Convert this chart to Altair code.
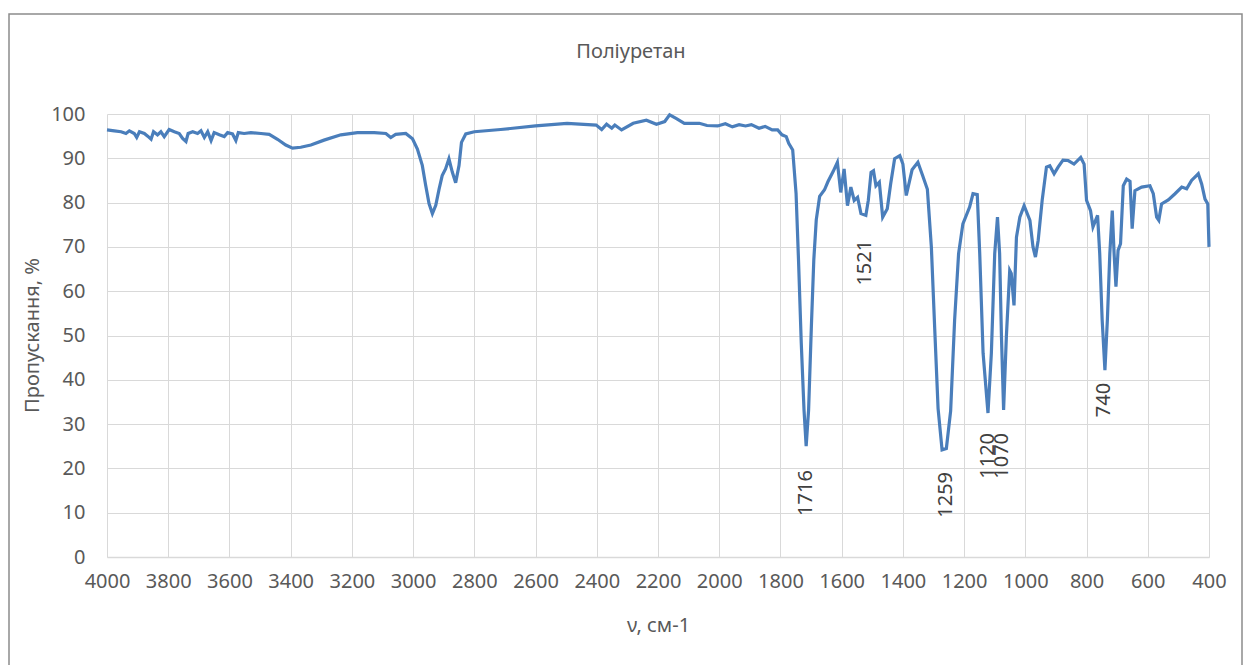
import altair as alt
import pandas as pd

# ---- spectrum (wavenumber, cm-1  /  transmittance, %) ----
wavenumber = [
    4000, 3976, 3954, 3938, 3927, 3911, 3903, 3894, 3878, 3867, 3856, 3848, 3835, 3824, 3813,
    3797, 3780, 3764, 3753, 3742, 3735, 3720, 3704, 3693, 3682, 3671, 3660, 3650, 3633, 3617,
    3606, 3590, 3579, 3571, 3552, 3530, 3497, 3470, 3443, 3416, 3394, 3367, 3334, 3291, 3236,
    3182, 3127, 3089, 3073, 3057, 3024, 3002, 2986, 2970, 2959, 2948, 2937, 2926, 2915, 2905,
    2894, 2883, 2872, 2861, 2850, 2842, 2828, 2800, 2714, 2600, 2497, 2402, 2384, 2368, 2351,
    2341, 2319, 2281, 2238, 2205, 2178, 2162, 2141, 2114, 2065, 2040, 2005, 1980, 1957, 1935,
    1914, 1895, 1870, 1850, 1827, 1809, 1795, 1781, 1773, 1760, 1749, 1741, 1732, 1723, 1716,
    1708, 1699, 1691, 1683, 1672, 1656, 1645, 1628, 1614, 1603, 1592, 1581, 1570, 1559, 1548,
    1537, 1521, 1513, 1504, 1496, 1488, 1477, 1466, 1451, 1440, 1427, 1410, 1400, 1389, 1370,
    1351, 1335, 1320, 1307, 1296, 1285, 1272, 1258, 1244, 1231, 1218, 1204, 1182, 1171, 1157,
    1149, 1138, 1122, 1111, 1100, 1091, 1084, 1078, 1071, 1062, 1051, 1046, 1037, 1029, 1018,
    1004, 985, 975, 967, 958, 945, 931, 920, 906, 893, 877, 860, 841, 819, 808,
    800, 787, 779, 764, 757, 749, 740, 732, 724, 716, 710, 704, 697, 689, 680,
    669, 658, 651, 642, 620, 593, 582, 571, 564, 555, 533, 511, 489, 473, 457,
    435, 424, 413, 404, 400,
]
transmittance = [
    96.4, 96.2, 96.0, 95.6, 96.2, 95.6, 94.7, 96.0, 95.6, 95.0, 94.3, 96.0, 95.3, 96.0, 94.9,
    96.5, 96.0, 95.6, 94.5, 93.8, 95.6, 96.0, 95.6, 96.2, 94.7, 96.0, 94.0, 95.8, 95.3, 94.9,
    95.8, 95.5, 94.0, 95.8, 95.6, 95.8, 95.6, 95.4, 94.3, 93.0, 92.3, 92.5, 93.0, 94.1, 95.3,
    95.8, 95.8, 95.6, 94.7, 95.4, 95.6, 94.4, 92.1, 88.4, 83.9, 79.8, 77.5, 79.4, 83.1, 86.1,
    87.6, 89.9, 86.9, 84.5, 88.4, 93.6, 95.5, 96.0, 96.5, 97.3, 97.9, 97.5, 96.5, 97.7, 96.8,
    97.5, 96.4, 97.9, 98.6, 97.7, 98.3, 99.8, 99.0, 97.9, 97.9, 97.4, 97.3, 97.8, 97.1, 97.6,
    97.3, 97.6, 96.8, 97.2, 96.4, 96.4, 95.3, 94.9, 93.4, 91.9, 82.1, 67.1, 48.3, 33.2, 25.0,
    33.2, 52.0, 67.1, 76.1, 81.4, 82.9, 84.7, 87.0, 89.1, 82.3, 87.6, 79.3, 83.5, 80.5, 81.2,
    77.5, 77.1, 80.5, 86.8, 87.2, 83.8, 84.6, 76.7, 78.6, 84.2, 89.9, 90.6, 88.7, 81.6, 87.4,
    89.1, 86.0, 83.0, 70.0, 51.5, 33.5, 24.2, 24.5, 33.0, 53.5, 68.5, 75.2, 79.0, 82.0, 81.8,
    68.5, 46.0, 32.5, 46.0, 68.5, 76.7, 68.5, 49.7, 33.2, 49.7, 64.7, 64.0, 56.8, 72.2, 76.7,
    79.3, 76.0, 70.0, 67.7, 71.5, 80.5, 88.0, 88.3, 86.5, 88.0, 89.6, 89.5, 88.7, 90.2, 88.7,
    80.5, 78.2, 74.5, 77.1, 68.5, 53.5, 42.2, 53.5, 68.5, 78.2, 68.5, 61.0, 69.2, 70.7, 83.8,
    85.3, 84.8, 74.1, 82.7, 83.5, 83.8, 82.0, 76.7, 76.0, 79.7, 80.6, 82.0, 83.5, 83.1, 85.0,
    86.5, 84.2, 80.8, 79.7, 70.0,
]

# ---- peak annotations ----
peak_labels = ["1716", "1521", "1259", "1120", "1070", "740"]
peak_x = [1716, 1524, 1259, 1122, 1075, 743]
peak_y = [19.6, 71.6, 19.2, 28.0, 28.0, 39.3]

chart_title = ["Поліуретан"]

x_ticks = list(range(4000, 399, -200))
y_ticks = list(range(0, 101, 10))

FONT = "Noto Sans"
TXT = "#595959"
GRID = "#D9D9D9"

spec = pd.DataFrame({"v": wavenumber, "t": transmittance})
labels = pd.DataFrame({"label": peak_labels, "v": peak_x, "t": peak_y})

x_enc = alt.X(
    "v:Q",
    scale=alt.Scale(domain=[400, 4000], reverse=True, nice=False, zero=False),
    axis=alt.Axis(
        values=x_ticks, format="d", grid=True, gridColor=GRID, ticks=False,
        domainColor=GRID, domainWidth=1.5, labelFontSize=20, labelColor=TXT, labelFont=FONT,
        labelPadding=14, labelOverlap=False, labelFlush=False,
        title="ν, см-1", titleFontSize=20, titleColor=TXT,
        titleFont=FONT, titleFontWeight="normal", titlePadding=24,
    ),
)
y_enc = alt.Y(
    "t:Q",
    scale=alt.Scale(domain=[0, 100], nice=False),
    axis=alt.Axis(
        values=y_ticks, grid=True, gridColor=GRID, ticks=False, domain=False,
        labelFontSize=20, labelColor=TXT, labelFont=FONT, labelPadding=22,
        labelOverlap=False, labelFlush=False,
        title="Пропускання, %", titleFontSize=20, titleColor=TXT, titleFont=FONT,
        titleFontWeight="normal", titleX=-75, titleY=221, titleAlign="center",
        titleBaseline="middle", titleAngle=270,
    ),
)

line = alt.Chart(spec).mark_line(color="#4A7EBB", strokeWidth=3.2).encode(x=x_enc, y=y_enc)

text = alt.Chart(labels).mark_text(
    angle=270, align="right", baseline="middle", fontSize=20, font=FONT, color="#404040"
).encode(x=alt.X("v:Q"), y=alt.Y("t:Q"), text="label:N")

title_mark = alt.Chart(pd.DataFrame({"title": chart_title})).mark_text(
    align="center", baseline="middle", fontSize=20, font=FONT, color=TXT
).encode(x=alt.value(524), y=alt.value(-62), text="title:N")

frame = alt.Chart(pd.DataFrame({"a": [0]})).mark_rect(
    fill="transparent", stroke="#8C8C8C", strokeWidth=1.5
).encode(x=alt.value(-98), x2=alt.value(1135), y=alt.value(-100), y2=alt.value(560))

chart = alt.layer(frame, line, text, title_mark).properties(
    width=1102,
    height=443,
    autosize=alt.AutoSizeParams(type="none"),
    padding={"left": 107, "top": 114, "right": 36, "bottom": 108},
    background="white",
).configure_view(stroke=None)

chart.save("out.html", embed_options={"renderer": "svg", "actions": False})
